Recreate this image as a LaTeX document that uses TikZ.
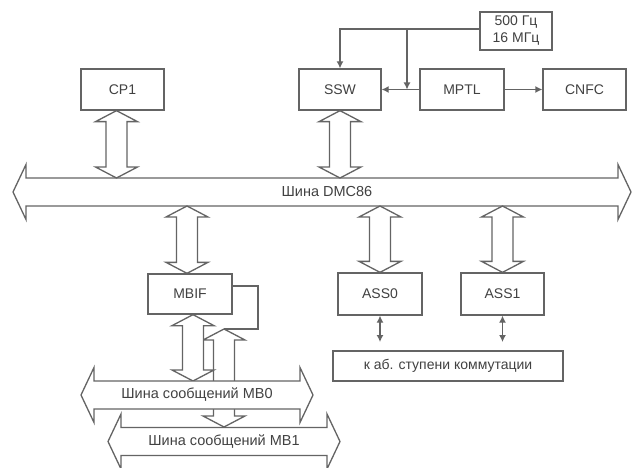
\documentclass[tikz,border=0pt]{standalone}
\usepackage{fontspec}
\setmainfont{Liberation Sans}
\usetikzlibrary{arrows.meta,calc}
\definecolor{ln}{RGB}{100,100,100}
\definecolor{tx}{RGB}{65,65,65}
\tikzset{
  box/.style={draw=ln, line width=1.3pt, fill=white, inner sep=0pt, text=tx,
              font=\fontsize{14}{17}\selectfont, align=center},
  bigar/.style={draw=ln, line width=1.3pt, fill=white, line join=miter},
  thin/.style={draw=ln, line width=1.3pt},
  tip/.style={-{Latex[length=7pt,width=7pt]}},
  dtip/.style={{Latex[length=7pt,width=7pt]}-{Latex[length=7pt,width=7pt]}},
  lbl/.style={text=tx, font=\fontsize{14.5}{17}\selectfont, inner sep=0pt}
}
% vertical hollow double arrow: #1 top tip, #2 bottom tip (same x)
\newcommand{\VArrow}[2]{%
  \draw[bigar] let \p1=#1, \p2=#2 in
   (\x1,\y1) -- (\x1+21pt,\y1-11pt) -- (\x1+10.5pt,\y1-11pt) -- (\x1+10.5pt,\y2+11pt)
   -- (\x1+21pt,\y2+11pt) -- (\x1,\y2) -- (\x1-21pt,\y2+11pt) -- (\x1-10.5pt,\y2+11pt)
   -- (\x1-10.5pt,\y1-11pt) -- (\x1-21pt,\y1-11pt) -- cycle;}
% horizontal hollow bus: #1 left tip, #2 right tip (same y)
\newcommand{\HBus}[2]{%
  \draw[bigar] let \p1=#1, \p2=#2 in
   (\x1,\y1) -- (\x1+13pt,\y1+27.5pt) -- (\x1+13pt,\y1+14pt) -- (\x2-13pt,\y1+14pt)
   -- (\x2-13pt,\y1+27.5pt) -- (\x2,\y1) -- (\x2-13pt,\y1-27.5pt) -- (\x2-13pt,\y1-14pt)
   -- (\x1+13pt,\y1-14pt) -- (\x1+13pt,\y1-27.5pt) -- cycle;}
\begin{document}
\begin{tikzpicture}[x=1pt,y=-1pt]
\useasboundingbox[fill=white] (0,0) rectangle (632,468);

% top row boxes
\node[box, minimum width=72pt, minimum height=38pt] (freq) at (516,31) {500 Гц\\16 МГц};
\node[box, minimum width=83pt, minimum height=41pt] (CP1) at (122.5,89.5) {CP1};
\node[box, minimum width=82pt, minimum height=41pt] (SSW) at (340,89.5) {SSW};
\node[box, minimum width=84pt, minimum height=41pt] (MPTL) at (462,89.5) {MPTL};
\node[box, minimum width=83pt, minimum height=41pt] (CNFC) at (584.5,89.5) {CNFC};

% lower boxes
\node[box, minimum width=84pt, minimum height=40pt] (MBIF) at (190,294) {MBIF};
\node[box, minimum width=84pt, minimum height=42pt] (ASS0) at (380,294) {ASS0};
\node[box, minimum width=83pt, minimum height=42pt] (ASS1) at (502.5,294) {ASS1};
\node[box, minimum width=230pt, minimum height=30pt] (kab) at (448,366) {к аб. ступени коммутации};

% bus reference coordinates
\coordinate (dmcL) at (13,192);
\coordinate (dmcR) at (631,192);
\coordinate (dmcT) at (0,178);
\coordinate (dmcB) at (0,206);
\coordinate (mb0L) at (81,395);
\coordinate (mb0R) at (313,395);
\coordinate (mb0T) at (0,381);
\coordinate (mb1L) at (108,441.5);
\coordinate (mb1R) at (340,441.5);
\coordinate (mb1T) at (0,427);

% clock lines
\coordinate (clk) at ([yshift=2pt]freq.west);
\coordinate (br) at (407,0);
\draw[thin, tip] (clk) -| (SSW.north);
\draw[thin, tip] (clk -| br) -- ($(SSW.east)!(clk -| br)!(MPTL.west)$);
\draw[thin, tip] (MPTL.west) -- (SSW.east);
\draw[thin, tip] (MPTL.east) -- (CNFC.west);

% DMC86 bus
\HBus{(dmcL)}{(dmcR)}
\node[lbl] (dmclbl) at (327,192) {Шина DMC86};

% arrows between boxes and DMC86 bus
\VArrow{([xshift=-6pt]CP1.south)}{([xshift=-6pt]CP1.south |- dmcT)}
\VArrow{(SSW.south)}{(SSW.south |- dmcT)}
\VArrow{([xshift=-3pt]MBIF.north |- dmcB)}{([xshift=-3pt]MBIF.north)}
\VArrow{(ASS0.north |- dmcB)}{(ASS0.north)}
\VArrow{(ASS1.north |- dmcB)}{(ASS1.north)}

% ASS to subscriber stage
\coordinate (kabT) at (0,342);
\draw[thin, dtip] (ASS0.south) -- (ASS0.south |- kabT);
\draw[thin, dtip] (ASS1.south) -- (ASS1.south |- kabT);

% MBIF loop and message bus arrows
\coordinate (loopR) at (258,286);
\coordinate (loopc) at (224,329);
\draw[thin] (MBIF.east |- loopR) -- (loopR) |- (loopc);
\VArrow{(loopc)}{(loopc |- mb1T)}
\VArrow{([xshift=3pt]MBIF.south)}{([xshift=3pt]MBIF.south |- mb0T)}

% message buses
\HBus{(mb0L)}{(mb0R)}
\node[lbl] (mb0lbl) at (197,395) {Шина сообщений MB0};
\HBus{(mb1L)}{(mb1R)}
\node[lbl] (mb1lbl) at (224,441.5) {Шина сообщений MB1};
\end{tikzpicture}
\end{document}
